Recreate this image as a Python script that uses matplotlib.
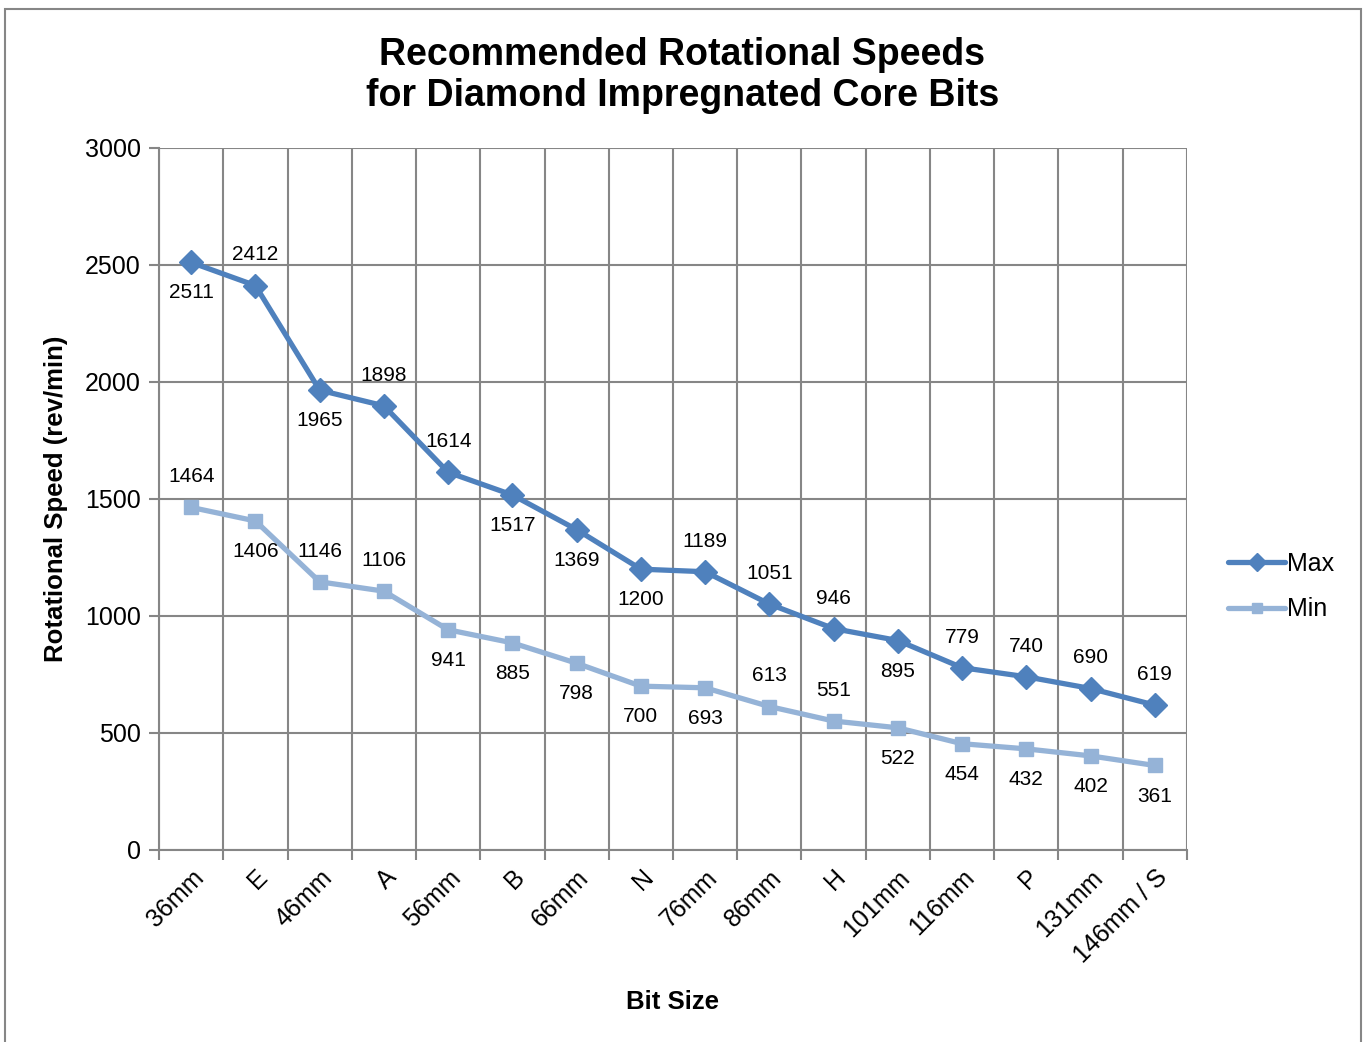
import numpy as np
import matplotlib.pyplot as plt
from matplotlib.patches import Rectangle

plt.rcParams['font.family'] = ['Liberation Sans', 'DejaVu Sans']

bit_sizes = ['36mm', 'E', '46mm', 'A', '56mm', 'B', '66mm', 'N', '76mm',
             '86mm', 'H', '101mm', '116mm', 'P', '131mm', '146mm / S']
max_speed = [2511, 2412, 1965, 1898, 1614, 1517, 1369, 1200, 1189,
             1051, 946, 895, 779, 740, 690, 619]
min_speed = [1464, 1406, 1146, 1106, 941, 885, 798, 700, 693,
             613, 551, 522, 454, 432, 402, 361]
# label placement: 1 = above, -1 = below
max_pos = [-1, 1, -1, 1, 1, -1, -1, -1, 1, 1, 1, -1, 1, 1, 1, 1]
min_pos = [1, -1, 1, 1, -1, -1, -1, -1, -1, 1, 1, -1, -1, -1, -1, -1]

c_max = '#4F81BD'
c_min = '#95B3D7'
grid_c = '#868686'

fig = plt.figure(figsize=(13.64, 10.42), dpi=100)
ax = fig.add_axes([0.1166, 0.1843, 0.7536, 0.6737])

x = np.arange(len(bit_sizes))
ax.plot(x, max_speed, color=c_max, lw=3.8, marker='D', ms=12,
        label='Max', solid_capstyle='round', zorder=3)
ax.plot(x, min_speed, color=c_min, lw=3.8, marker='s', ms=10.5,
        label='Min', solid_capstyle='round', zorder=3)

for xi, v, p in zip(x, max_speed, max_pos):
    ax.annotate(str(v), (xi, v), xytext=(0, 22 * p), textcoords='offset points',
                ha='center', va='center', fontsize=15)
for xi, v, p in zip(x, min_speed, min_pos):
    ax.annotate(str(v), (xi, v), xytext=(0, 22 * p), textcoords='offset points',
                ha='center', va='center', fontsize=15)

ax.set_xlim(-0.5, len(bit_sizes) - 0.5)
ax.set_ylim(0, 3000)
ax.set_yticks(np.arange(0, 3001, 500))
ax.set_xticks(x)
ax.set_xticklabels(bit_sizes, rotation=45, ha='right', rotation_mode='anchor',
                   fontsize=18)
ax.set_xticks(np.arange(-0.5, len(bit_sizes)), minor=True)
ax.tick_params(axis='x', which='major', length=0, pad=11)
ax.tick_params(axis='x', which='minor', length=7, width=1.5, color=grid_c)
ax.tick_params(axis='y', labelsize=18, length=7, width=1.5, color=grid_c, pad=6)

ax.grid(axis='y', color=grid_c, lw=1.5)
ax.grid(axis='x', which='minor', color=grid_c, lw=1.5)
for s in ['top', 'right']:
    ax.spines[s].set_visible(False)
for s in ['left', 'bottom']:
    ax.spines[s].set_color(grid_c)
    ax.spines[s].set_linewidth(1.5)
ax.set_axisbelow(True)

ax.set_xlabel('Bit Size', fontsize=18.5, fontweight='bold', labelpad=16)
ax.set_ylabel('Rotational Speed (rev/min)', fontsize=18.5, fontweight='bold', labelpad=12)
ax.set_title('Recommended Rotational Speeds\nfor Diamond Impregnated Core Bits',
             fontsize=27, fontweight='bold', pad=30, linespacing=1.2, x=0.509)

leg = ax.legend(loc='center left', bbox_to_anchor=(1.018, 0.375), frameon=False,
                fontsize=18, handlelength=2.3, handletextpad=0.05,
                labelspacing=0.85, markerscale=0.75)

fig.patches.append(Rectangle((5 / 1364, -0.01), 1356 / 1364, 1 - 9 / 1042 + 0.01,
                             transform=fig.transFigure, fill=False,
                             edgecolor=grid_c, lw=1.5))

fig.savefig('out.png', dpi=100)
